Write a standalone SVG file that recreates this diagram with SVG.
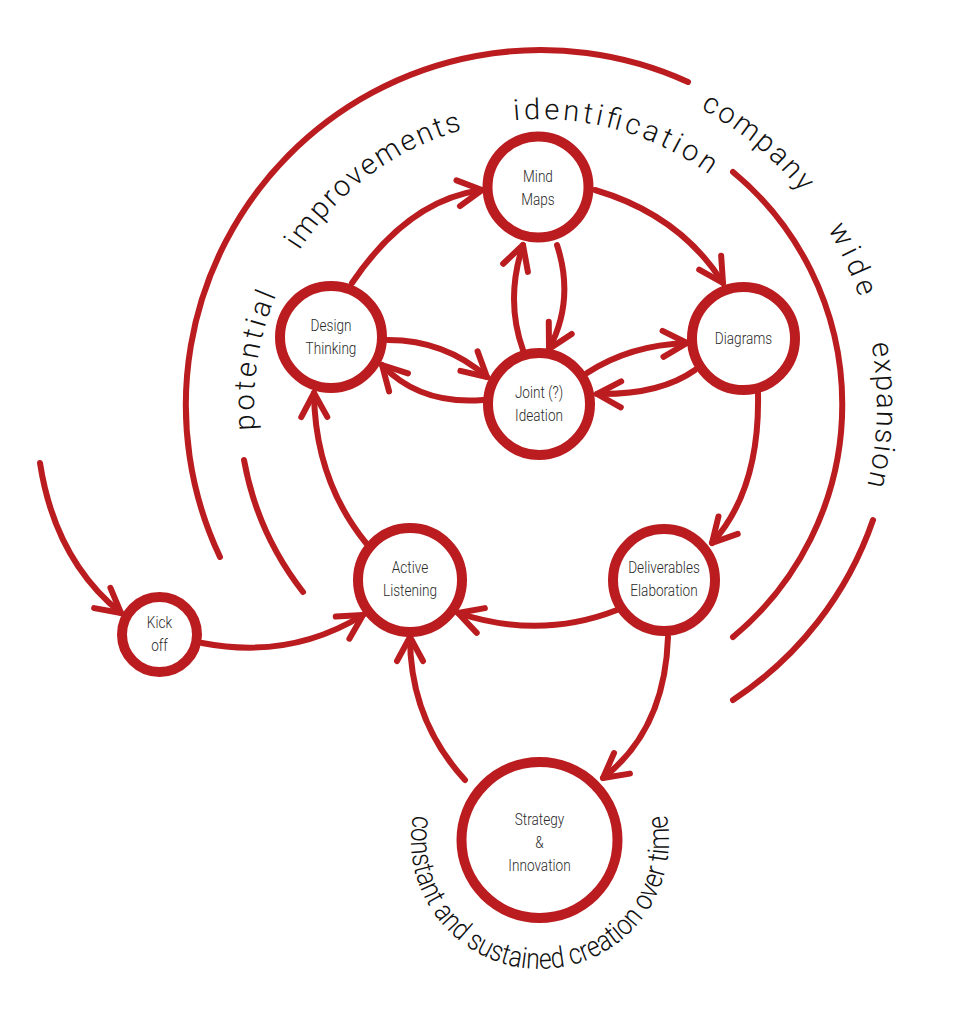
<svg xmlns="http://www.w3.org/2000/svg" width="975" height="1012" viewBox="0 0 975 1012">
<style>
.node{fill:#fff;stroke:#BA1C1F;stroke-width:10}
.conn{fill:none;stroke:#BA1C1F;stroke-width:6;stroke-linecap:round}
.arcline{fill:none;stroke:#BA1C1F;stroke-width:6;stroke-linecap:round}
.lbl{font-family:Roboto,"Liberation Sans",sans-serif;font-weight:300;font-size:17px;fill:#2a2a2a;text-anchor:middle}
.arct{font-family:Roboto,"Liberation Sans",sans-serif;font-weight:300;font-size:29px;fill:#111}
.bott{font-family:Roboto,"Liberation Sans",sans-serif;font-weight:300;font-size:29px;fill:#111}
</style>
<defs>
<marker id="ah" viewBox="-30 -20 40 40" markerWidth="40" markerHeight="40" refX="0" refY="0" orient="auto" markerUnits="userSpaceOnUse">
<path d="M-24,-13 L0,0 L-24,13" fill="none" stroke="#BA1C1F" stroke-width="6" stroke-linecap="round" stroke-linejoin="round"/>
</marker>
<path id="line1" d="M256.8,444.8 A286,286 0 0,1 742.2,202.8"/>
<path id="line2" d="M666.2,92.5 A337,337 0 0,1 845.4,547.4"/>
<path id="line3" d="M413.8,813.2 A129,129 0 1,0 665.7,811"/>
</defs>

<g id="spiral-arcs">
<path class="arcline" d="M220,557 A355,355 0 0,1 688,82"/>
<path class="arcline" d="M733,172 A302,302 0 0,1 733,637"/>
<path class="arcline" d="M873,520 A352,352 0 0,1 733,700"/>
<path class="arcline" d="M303,592 A302,302 0 0,1 244,460"/>
</g>

<g id="spiral-texts">
<text class="arct"><textPath href="#line1" startOffset="15" textLength="138" lengthAdjust="spacing">potential</textPath></text>
<text class="arct"><textPath href="#line1" startOffset="203" textLength="207" lengthAdjust="spacing">improvements</textPath></text>
<text class="arct"><textPath href="#line1" startOffset="463" textLength="207" lengthAdjust="spacing">identification</textPath></text>
<text class="arct"><textPath href="#line2" startOffset="38" textLength="132" lengthAdjust="spacing">company</textPath></text>
<text class="arct"><textPath href="#line2" startOffset="215" textLength="75" lengthAdjust="spacing">wide</textPath></text>
<text class="arct"><textPath href="#line2" startOffset="338" textLength="143" lengthAdjust="spacing">expansion</textPath></text>
</g>

<g id="bottom-text">
<text class="bott"><textPath href="#line3" startOffset="2" textLength="95" lengthAdjust="spacingAndGlyphs">constant</textPath></text>
<text class="bott"><textPath href="#line3" startOffset="103.3" textLength="40.3" lengthAdjust="spacingAndGlyphs">and</textPath></text>
<text class="bott"><textPath href="#line3" startOffset="149.7" textLength="105.5" lengthAdjust="spacingAndGlyphs">sustained</textPath></text>
<text class="bott"><textPath href="#line3" startOffset="261.3" textLength="88.4" lengthAdjust="spacingAndGlyphs">creation</textPath></text>
<text class="bott"><textPath href="#line3" startOffset="355.8" textLength="46.9" lengthAdjust="spacingAndGlyphs">over</textPath></text>
<text class="bott"><textPath href="#line3" startOffset="408.8" textLength="48.3" lengthAdjust="spacingAndGlyphs">time</textPath></text>
</g>

<g id="connectors">
<path class="conn" marker-end="url(#ah)" d="M40,463 Q55,560 121,613"/>
<path class="conn" marker-end="url(#ah)" d="M202,643 Q290,660 363,615"/>
<path class="conn" marker-end="url(#ah)" d="M352,283 Q408,200 482,190"/>
<path class="conn" marker-end="url(#ah)" d="M595,190 Q680,215 723,283"/>
<path class="conn" marker-end="url(#ah)" d="M523,350 Q505,300 523,245"/>
<path class="conn" marker-end="url(#ah)" d="M557,245 Q575,300 549,349"/>
<path class="conn" marker-end="url(#ah)" d="M388,340 Q445,340 487,377"/>
<path class="conn" marker-end="url(#ah)" d="M483,400 Q420,405 382,365"/>
<path class="conn" marker-end="url(#ah)" d="M587,373 Q630,345 687,343"/>
<path class="conn" marker-end="url(#ah)" d="M695,370 Q660,395 597,394"/>
<path class="conn" marker-end="url(#ah)" d="M758,393 Q760,490 712,543"/>
<path class="conn" marker-end="url(#ah)" d="M617,610 Q540,640 458,613"/>
<path class="conn" marker-end="url(#ah)" d="M366,543 Q315,480 314,393"/>
<path class="conn" marker-end="url(#ah)" d="M465,780 Q410,720 410,637"/>
<path class="conn" marker-end="url(#ah)" d="M668,637 Q665,730 603,778"/>
</g>

<g id="node-mind-maps">
<circle class="node" cx="538" cy="187" r="50.5"/>
<text class="lbl" transform="translate(538,0) scale(0.8,1)" y="182">Mind</text>
<text class="lbl" transform="translate(538,0) scale(0.8,1)" y="205">Maps</text>
</g>
<g id="node-design-thinking">
<circle class="node" cx="331" cy="337" r="51"/>
<text class="lbl" transform="translate(331,0) scale(0.8,1)" y="331">Design</text>
<text class="lbl" transform="translate(331,0) scale(0.8,1)" y="354">Thinking</text>
</g>
<g id="node-diagrams">
<circle class="node" cx="743.5" cy="338.5" r="51.5"/>
<text class="lbl" transform="translate(743.5,0) scale(0.8,1)" y="344">Diagrams</text>
</g>
<g id="node-joint-ideation">
<circle class="node" cx="539" cy="404" r="51"/>
<text class="lbl" transform="translate(539,0) scale(0.8,1)" y="398">Joint (?)</text>
<text class="lbl" transform="translate(539,0) scale(0.8,1)" y="421">Ideation</text>
</g>
<g id="node-active-listening">
<circle class="node" cx="410" cy="580" r="52"/>
<text class="lbl" transform="translate(410,0) scale(0.8,1)" y="573">Active</text>
<text class="lbl" transform="translate(410,0) scale(0.8,1)" y="596">Listening</text>
</g>
<g id="node-deliverables-elaboration">
<circle class="node" cx="664" cy="580" r="51"/>
<text class="lbl" transform="translate(664,0) scale(0.8,1)" y="573">Deliverables</text>
<text class="lbl" transform="translate(664,0) scale(0.8,1)" y="596">Elaboration</text>
</g>
<g id="node-kick-off">
<circle class="node" cx="159.5" cy="634.5" r="37.5"/>
<text class="lbl" transform="translate(159.5,0) scale(0.8,1)" y="628">Kick</text>
<text class="lbl" transform="translate(159.5,0) scale(0.8,1)" y="651">off</text>
</g>
<g id="node-strategy-innovation">
<circle class="node" cx="539.5" cy="840" r="78"/>
<text class="lbl" transform="translate(539.5,0) scale(0.8,1)" y="825">Strategy</text>
<text class="lbl" transform="translate(539.5,0) scale(0.8,1)" y="848">&amp;</text>
<text class="lbl" transform="translate(539.5,0) scale(0.8,1)" y="871">Innovation</text>
</g>
</svg>
